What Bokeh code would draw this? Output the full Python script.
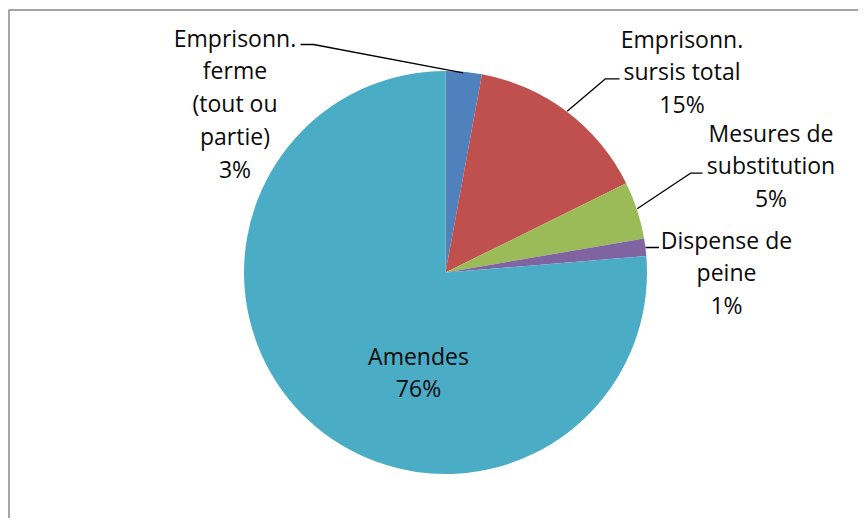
import math
from bokeh.plotting import figure
from bokeh.models import Range1d, ColumnDataSource
from bokeh.core.properties import value
from bokeh.embed import file_html
from bokeh.resources import INLINE

# ---- data ----
categories = ["Emprisonn. ferme (tout ou partie)", "Emprisonn. sursis total",
              "Mesures de substitution", "Dispense de peine", "Amendes"]
values = [2.9, 14.8, 4.6, 1.4, 76.3]
label_lines = [["Emprisonn.", "ferme", "(tout ou", "partie)"],
               ["Emprisonn.", "sursis total"],
               ["Mesures de", "substitution"],
               ["Dispense de", "peine"],
               ["Amendes"]]
colors = ["#4F81BD", "#C0504D", "#9BBB59", "#8064A2", "#4BACC6"]

# ---- layout (pixel coords from top-left, converted to data coords) ----
W, H = 858, 518
def Y(sy):
    return H - sy

cx, cy, r = 445, Y(272), 201.5
label_pos = [(234.5, 37), (681.5, 38), (770.5, 132), (726, 239), (418, 355)]
line_h = 32.8
leaders = [[(300, 44), (313, 44), (462.7, 72.3)],
           [(566.7, 110.7), (605, 78.3), (619, 78.3)],
           [(636.7, 208.3), (690, 172.7), (702, 172.7)],
           [(645, 247), (658.5, 247)],
           None]

p = figure(width=W, height=H, output_backend="svg", toolbar_location=None,
           x_range=Range1d(0, W), y_range=Range1d(0, H),
           min_border=0, outline_line_color=None)
p.axis.visible = False
p.grid.visible = False
p.background_fill_color = "white"

total = sum(values)
starts, ends = [], []
cum = 0.0
for v in values:
    starts.append(math.pi / 2 - 2 * math.pi * cum / total)
    cum += v
    ends.append(math.pi / 2 - 2 * math.pi * cum / total)

src = ColumnDataSource(dict(x=[cx] * len(values), y=[cy] * len(values),
                            start=starts, end=ends, color=colors))
p.wedge(x="x", y="y", radius=r, start_angle="start", end_angle="end",
        direction="clock", fill_color="color", line_color=None, source=src)

# leader lines
for ld in leaders:
    if ld:
        p.line([a for a, b in ld], [Y(b) for a, b in ld], line_color="black", line_width=1.3)

# labels
tx, ty, tt = [], [], []
for i, (lines, (lx, ly)) in enumerate(zip(label_lines, label_pos)):
    all_lines = lines + ["%d%%" % round(100 * values[i] / total)]
    for j, t in enumerate(all_lines):
        tx.append(lx)
        ty.append(Y(ly + j * line_h))
        tt.append(t)
p.text(x=tx, y=ty, text=tt, text_align="center", text_baseline="middle",
       text_font=value("Open Sans"), text_font_size="23px", text_color="#0a0a0a")

# chart area border (top and left visible)
p.line([8.5, 8.5, W], [0, Y(9.5), Y(9.5)], line_color="#888888", line_width=1.5)

open("out.html", "w").write(file_html(p, INLINE))
